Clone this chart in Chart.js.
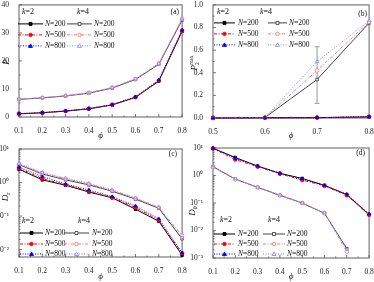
<!DOCTYPE html>
<html>
<head>
<meta charset="utf-8">
<script src="https://cdn.jsdelivr.net/npm/chart.js@4.4.0/dist/chart.umd.min.js"></script>
<style>
  html, body { margin: 0; padding: 0; background: #fff; }
  #wrap { position: relative; width: 374px; height: 282px; overflow: hidden; }
  .p { position: absolute; width: 187px; height: 141px; }
</style>
</head>
<body>
<div id="wrap">
  <div class="p" style="left:0;top:0"><canvas id="ca" width="187" height="141"></canvas></div>
  <div class="p" style="left:187px;top:0"><canvas id="cb" width="187" height="141"></canvas></div>
  <div class="p" style="left:0;top:141px"><canvas id="cc" width="187" height="141"></canvas></div>
  <div class="p" style="left:187px;top:141px"><canvas id="cd" width="187" height="141"></canvas></div>
</div>
<script>
// x values (volume fraction phi)
const phi = [0.1, 0.2, 0.3, 0.4, 0.5, 0.6, 0.7, 0.8];
const phiB = [0.5, 0.6, 0.7, 0.8];
const phiD4 = [0.1, 0.2, 0.3, 0.4, 0.5, 0.6, 0.7];

const nLabels = ["N=200", "N=500", "N=800"];
const kLabels = ["k=2", "k=4"];

// (a) P
const aK2N200 = [1.1, 1.5, 2.1, 2.9, 4.3, 7.0, 12.8, 30.6];
const aK2N500 = [1.2, 1.5, 2.1, 3.0, 4.4, 7.1, 13.0, 30.8];
const aK2N800 = [1.2, 1.6, 2.2, 3.0, 4.4, 7.2, 13.2, 31.0];
const aK4N200 = [6.3, 6.8, 7.5, 8.5, 10.3, 13.4, 18.8, 34.6];
const aK4N500 = [6.4, 6.9, 7.6, 8.6, 10.5, 13.6, 19.0, 35.0];
const aK4N800 = [6.4, 6.9, 7.6, 8.7, 10.5, 13.6, 19.1, 35.0];

// (b) P2max
const bK2N200 = [0, 0.002, 0.003, 0.01];
const bK2N500 = [0, 0.002, 0.003, 0.01];
const bK2N800 = [0, 0.002, 0.003, 0.012];
const bK4N200 = [0, 0.005, 0.34, 0.84];
const bK4N500 = [0, 0.005, 0.42, 0.85];
const bK4N800 = [0, 0.005, 0.50, 0.86];
const bErrX = 0.7;
const bErrRange = [0.13, 0.63];

// (c) Dr
const cK2N200 = [2.5, 1.2, 0.83, 0.52, 0.35, 0.16, 0.07, 0.0068];
const cK2N500 = [2.7, 1.3, 0.86, 0.55, 0.36, 0.18, 0.075, 0.0078];
const cK2N800 = [2.9, 1.5, 0.9, 0.6, 0.38, 0.2, 0.083, 0.008];
const cK4N200 = [3.4, 1.8, 1.2, 0.85, 0.55, 0.32, 0.17, 0.021];
const cK4N500 = [3.5, 1.9, 1.3, 0.9, 0.58, 0.34, 0.18, 0.026];
const cK4N800 = [3.7, 2.0, 1.35, 0.95, 0.6, 0.35, 0.18, 0.023];

// (d) Dtheta
const dK2N200 = [9.8, 4.5, 2.2, 1.2, 0.78, 0.44, 0.2, 0.038];
const dK2N500 = [9.6, 3.8, 2.1, 1.15, 0.68, 0.42, 0.19, 0.037];
const dK2N800 = [9.8, 4.2, 2.2, 1.2, 0.75, 0.43, 0.21, 0.04];
const dK4N200 = [2.1, 0.74, 0.37, 0.19, 0.1, 0.042, 0.0022];
const dK4N500 = [2.0, 0.73, 0.37, 0.19, 0.1, 0.043, 0.0017];
const dK4N800 = [2.0, 0.75, 0.38, 0.2, 0.1, 0.044, 0.002];

// log axis ticks
const cTicks = [10, 1, 0.1, 0.01];
const cTickLabels = ["10\u00b9", "10\u2070", "10\u207b\u00b9", "10\u207b\u00b2"];
const dTicks = [10, 1, 0.1, 0.01, 0.001];
const dTickLabels = ["10\u00b9", "10\u2070", "10\u207b\u00b9", "10\u207b\u00b2", "10\u207b\u00b3"];

// styles
const colK2 = ["#000000", "#ff0000", "#0000ff"];
const colK4 = ["#444444", "#ff7a7a", "#8a8aff"];
const dashes = [[], [3, 1.5, 1, 1.5], [1, 1.5]];
const markers = ["rect", "circle", "triangle"];
const FONT = "'Liberation Serif', 'Times New Roman', serif";

function makeDatasets(groups) {
  const out = [];
  for (let n = 2; n >= 0; n--) {
    groups.forEach(g => {
      const col = g.k === 2 ? colK2[n] : colK4[n];
      out.push({
        data: g.arrs[n].map((v, i) => ({ x: g.xs[i], y: v })),
        borderColor: col, borderWidth: 1, borderDash: dashes[n],
        pointStyle: markers[n], pointRadius: 1.8, pointBorderWidth: 0.9,
        pointBorderColor: col, pointBackgroundColor: g.k === 2 ? col : "#fff",
        fill: false, tension: 0, clip: false
      });
    });
  }
  return out;
}

function drawRich(ctx, parts, x, y, align) {
  // parts: [text, italic, size, dy, noAdvance]
  let w = 0;
  parts.forEach(p => {
    ctx.font = (p[1] ? "italic " : "") + p[2] + "px " + FONT;
    if (!p[4]) w += ctx.measureText(p[0]).width;
  });
  let cx = align === "center" ? x - w / 2 : (align === "right" ? x - w : x);
  ctx.textAlign = "left";
  ctx.textBaseline = "middle";
  parts.forEach(p => {
    ctx.font = (p[1] ? "italic " : "") + p[2] + "px " + FONT;
    ctx.fillText(p[0], cx, y + (p[3] || 0));
    if (!p[4]) cx += ctx.measureText(p[0]).width;
  });
}

function drawMarker(ctx, type, x, y, col, filled) {
  ctx.save();
  ctx.setLineDash([]);
  ctx.lineWidth = 0.9;
  ctx.strokeStyle = col;
  ctx.fillStyle = filled ? col : "#fff";
  ctx.beginPath();
  if (type === "rect") ctx.rect(x - 1.5, y - 1.5, 3, 3);
  else if (type === "circle") ctx.arc(x, y, 1.7, 0, Math.PI * 2);
  else { ctx.moveTo(x, y - 2); ctx.lineTo(x + 2, y + 1.5); ctx.lineTo(x - 2, y + 1.5); ctx.closePath(); }
  ctx.fill(); ctx.stroke();
  ctx.restore();
}

function makePanel(id, cfg) {
  const deco = {
    id: "deco",
    beforeDatasetsDraw(chart) {
      const ctx = chart.ctx, a = chart.chartArea;
      const xs = chart.scales.x, ys = chart.scales.y;
      ctx.save();
      // error bar
      if (cfg.err) {
        const px = xs.getPixelForValue(cfg.err.x);
        const p1 = ys.getPixelForValue(cfg.err.r[0]), p2 = ys.getPixelForValue(cfg.err.r[1]);
        ctx.strokeStyle = "#999"; ctx.lineWidth = 1;
        ctx.beginPath();
        ctx.moveTo(px, p1); ctx.lineTo(px, p2);
        ctx.moveTo(px - 2.5, p1); ctx.lineTo(px + 2.5, p1);
        ctx.moveTo(px - 2.5, p2); ctx.lineTo(px + 2.5, p2);
        ctx.stroke();
      }
      // frame
      ctx.strokeStyle = "#7a7a7a"; ctx.lineWidth = 1.2;
      ctx.strokeRect(a.left, a.top, a.right - a.left, a.bottom - a.top);
      // ticks
      ctx.strokeStyle = "#555"; ctx.lineWidth = 0.8;
      ctx.beginPath();
      for (let v = xs.min; v <= xs.max + 1e-9; v += 0.05) {
        const px = xs.getPixelForValue(v);
        const major = Math.abs(Math.round(v * 10) - v * 10) < 1e-6;
        ctx.moveTo(px, a.bottom); ctx.lineTo(px, a.bottom - (major ? 3 : 1.5));
      }
      if (cfg.log) {
        const d0 = Math.floor(Math.log10(ys.min)), d1 = Math.ceil(Math.log10(ys.max));
        for (let d = d0; d <= d1; d++) {
          for (let m = 1; m <= 9; m++) {
            const v = m * Math.pow(10, d);
            if (v < ys.min || v > ys.max) continue;
            const py = ys.getPixelForValue(v);
            ctx.moveTo(a.left, py); ctx.lineTo(a.left + (m === 1 ? 3 : 1.5), py);
          }
        }
      } else {
        for (let v = ys.min; v <= ys.max + 1e-9; v += cfg.yMinor) {
          const py = ys.getPixelForValue(v);
          const major = Math.abs(Math.round(v / cfg.yStep) - v / cfg.yStep) < 1e-6;
          ctx.moveTo(a.left, py); ctx.lineTo(a.left + (major ? 3 : 1.5), py);
        }
      }
      ctx.stroke();
      ctx.restore();
    },
    afterDatasetsDraw(chart) {
      const ctx = chart.ctx, a = chart.chartArea, L = cfg.legend;
      ctx.save();
      ctx.fillStyle = "#111";
      // legend
      const x0 = a.left, y0 = a.top;
      const kk = kLabels.map(s => s.split("="));
      drawRich(ctx, [[kk[0][0], true, 8], ["=" + kk[0][1], false, 8]], x0 + L.h1, y0 + L.hy, "left");
      drawRich(ctx, [[kk[1][0], true, 8], ["=" + kk[1][1], false, 8]], x0 + L.h2, y0 + L.hy, "left");
      for (let n = 0; n < 3; n++) {
        const y = y0 + L.rows[n];
        [[colK2[n], L.c1, true], [colK4[n], L.c2, false]].forEach(([col, c, filled]) => {
          ctx.save();
          ctx.strokeStyle = col; ctx.lineWidth = 1; ctx.setLineDash(dashes[n]);
          ctx.beginPath(); ctx.moveTo(x0 + c[0], y); ctx.lineTo(x0 + c[1], y); ctx.stroke();
          ctx.restore();
          drawMarker(ctx, markers[n], x0 + (c[0] + c[1]) / 2, y, col, filled);
          const parts = nLabels[n].split("=");
          ctx.fillStyle = "#111";
          drawRich(ctx, [[parts[0], true, 7.5], ["=" + parts[1], false, 7.5]], x0 + c[2], y, "left");
        });
      }
      // panel letter
      drawRich(ctx, [[cfg.letter, false, 7.5]], a.right + cfg.letterPos[0], a.top + cfg.letterPos[1], "right");
      // y title
      ctx.translate(cfg.yTitlePos[0], cfg.yTitlePos[1]);
      ctx.rotate(-Math.PI / 2);
      drawRich(ctx, cfg.yTitle, 0, 0, "center");
      ctx.restore();
    }
  };

  const tickFont = { family: FONT, size: 7.5 };
  const yScale = {
    type: cfg.log ? "logarithmic" : "linear",
    min: cfg.yMin, max: cfg.yMax,
    grid: { display: false }, border: { display: false },
    ticks: {
      font: tickFont, color: "#222", padding: 2, autoSkip: false,
      stepSize: cfg.yStep,
      callback: cfg.log
        ? (v) => { const i = cfg.yTicks.indexOf(v); return i >= 0 ? cfg.yTickLabels[i] : ""; }
        : (v) => cfg.yFmt(v)
    },
    afterFit(s) { s.width = cfg.yW; s.paddingTop = 0; s.paddingBottom = 0; }
  };
  if (cfg.log) {
    yScale.afterBuildTicks = (s) => { s.ticks = cfg.yTicks.map(v => ({ value: v, major: true })); };
  }

  new Chart(document.getElementById(id), {
    type: "line",
    data: { datasets: makeDatasets(cfg.groups) },
    options: {
      responsive: false, animation: false,
      layout: { padding: { top: cfg.padTop, right: 2, left: 0, bottom: 0 } },
      plugins: { legend: { display: false }, tooltip: { enabled: false } },
      scales: {
        x: {
          type: "linear", min: cfg.xMin, max: 0.8,
          grid: { display: false }, border: { display: false },
          ticks: { stepSize: 0.1, font: tickFont, color: "#222", padding: 2, maxRotation: 0, autoSkip: false,
                   callback: (v) => v.toFixed(1) },
          title: { display: true, text: "\u03d5", font: { family: FONT, size: 9, style: "italic" }, color: "#222", padding: 0 },
          afterFit(s) { s.height = cfg.xH; s.paddingLeft = 0; s.paddingRight = 0; }
        },
        y: yScale
      }
    },
    plugins: [deco]
  });
}

makePanel("ca", {
  groups: [{ k: 2, xs: phi, arrs: [aK2N200, aK2N500, aK2N800] }, { k: 4, xs: phi, arrs: [aK4N200, aK4N500, aK4N800] }],
  xMin: 0.1, yMin: 0, yMax: 40, yStep: 10, yMinor: 5, yFmt: v => String(v),
  yW: 19, xH: 24, padTop: 3,
  legend: { h1: 3, h2: 58, hy: 7, rows: [19, 30, 41], c1: [-1, 24, 26], c2: [48, 73, 75] },
  letter: "(a)", letterPos: [-3, 7],
  yTitle: [["P", true, 9]], yTitlePos: [7, 62]
});

makePanel("cb", {
  groups: [{ k: 2, xs: phiB, arrs: [bK2N200, bK2N500, bK2N800] }, { k: 4, xs: phiB, arrs: [bK4N200, bK4N500, bK4N800] }],
  xMin: 0.5, yMin: 0, yMax: 1, yStep: 0.2, yMinor: 0.1, yFmt: v => v.toFixed(1),
  yW: 26, xH: 23, padTop: 3,
  err: { x: bErrX, r: bErrRange },
  legend: { h1: 4, h2: 47, hy: 7, rows: [18, 29, 40], c1: [1, 22, 25], c2: [55, 74, 76] },
  letter: "(b)", letterPos: [-2, 9],
  yTitle: [["P", true, 9], ["2", false, 5.5, 2.5, true], ["max", false, 5.5, -3.5]], yTitlePos: [8, 63]
});

makePanel("cc", {
  groups: [{ k: 2, xs: phi, arrs: [cK2N200, cK2N500, cK2N800] }, { k: 4, xs: phi, arrs: [cK4N200, cK4N500, cK4N800] }],
  xMin: 0.1, log: true, yMin: 0.006, yMax: 10, yTicks: cTicks, yTickLabels: cTickLabels,
  yW: 19, xH: 25, padTop: 8,
  legend: { h1: 3, h2: 59, hy: 72, rows: [84, 95, 105], c1: [1, 24, 26], c2: [45, 70, 73] },
  letter: "(c)", letterPos: [-5, 5],
  yTitle: [["D", true, 9], ["r", false, 6, 2.5]], yTitlePos: [6, 56]
});

makePanel("cd", {
  groups: [{ k: 2, xs: phi, arrs: [dK2N200, dK2N500, dK2N800] }, { k: 4, xs: phiD4, arrs: [dK4N200, dK4N500, dK4N800] }],
  xMin: 0.1, log: true, yMin: 0.001, yMax: 10, yTicks: dTicks, yTickLabels: dTickLabels,
  yW: 26, xH: 24, padTop: 7,
  legend: { h1: 7, h2: 55, hy: 72, rows: [86, 96, 106], c1: [1, 22, 25], c2: [50, 72, 74] },
  letter: "(d)", letterPos: [-4, 5],
  yTitle: [["D", true, 9], ["\u03b8", true, 6, 2.5]], yTitlePos: [6, 70]
});
</script>
</body>
</html>
